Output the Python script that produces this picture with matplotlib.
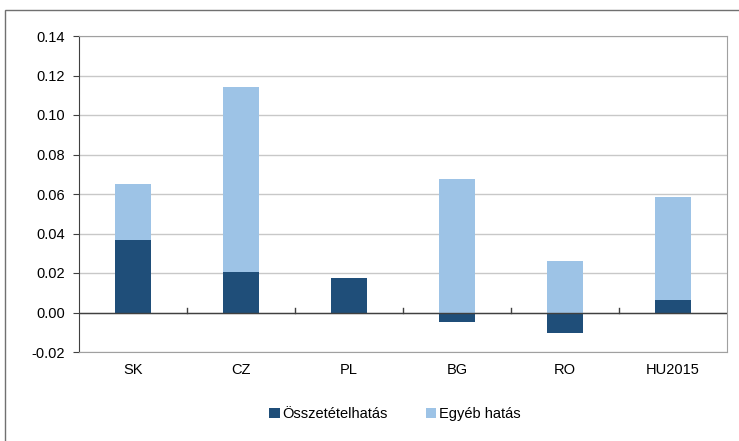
import matplotlib.pyplot as plt
from matplotlib.patches import Rectangle
import numpy as np

plt.rcParams['font.family'] = ['Liberation Sans', 'DejaVu Sans']

categories = ["SK", "CZ", "PL", "BG", "RO", "HU2015"]
osszetetel = [0.0367, 0.0203, 0.0176, -0.0048, -0.0105, 0.0063]
egyeb = [0.0283, 0.0937, 0.0, 0.0676, 0.0261, 0.0523]
yticks = [-0.02, 0.00, 0.02, 0.04, 0.06, 0.08, 0.10, 0.12, 0.14]

dark = '#1f4e79'
light = '#9dc3e6'
fs = 10.5

fig = plt.figure(figsize=(7.39, 4.41), dpi=100)
ax = fig.add_axes([79 / 739, 1 - 352 / 441, 648 / 739, 316 / 441])

x = np.arange(len(categories))
# light bars stack on the dark part only where it is positive
bottoms = [max(v, 0) for v in osszetetel]
ax.bar(x, osszetetel, width=0.33, color=dark, zorder=3, label='Összetételhatás')
ax.bar(x, egyeb, width=0.33, bottom=bottoms, color=light, zorder=3, label='Egyéb hatás')

ax.set_xlim(-0.5, len(categories) - 0.5)
ax.set_ylim(-0.02, 0.14)
ax.set_yticks(yticks)
ax.set_yticklabels([f'{v:.2f}' for v in yticks], fontsize=fs)
ax.yaxis.grid(True, color='#c8c8c8', lw=1, zorder=0)
ax.set_xticks(x)
ax.set_xticklabels(categories, fontsize=fs)
ax.tick_params(axis='x', length=0, pad=8)
ax.tick_params(axis='y', length=4, direction='out', color='#404040', pad=6)

for s in ['top', 'right', 'bottom']:
    ax.spines[s].set_color('#a0a0a0')
ax.spines['left'].set_color('#404040')

# zero line with small ticks between categories
ax.axhline(0, color='#404040', lw=1, zorder=4)
for b in np.arange(0.5, len(categories) - 0.5, 1.0):
    ax.plot([b, b], [0, 0.0025], color='#404040', lw=1, zorder=4)

leg = fig.legend(loc='center', bbox_to_anchor=(395 / 739, 1 - 414 / 441), ncol=2,
                 frameon=False, fontsize=fs, handlelength=0.7, handleheight=0.7,
                 handletextpad=0.2, columnspacing=2.6)

# outer chart frame
fig.patches.append(Rectangle((5 / 739, -0.05), 1.1, 1 - 10 / 441 + 0.05,
                             transform=fig.transFigure, fill=False,
                             edgecolor='#707070', lw=1))

fig.savefig('out.png', dpi=100)
